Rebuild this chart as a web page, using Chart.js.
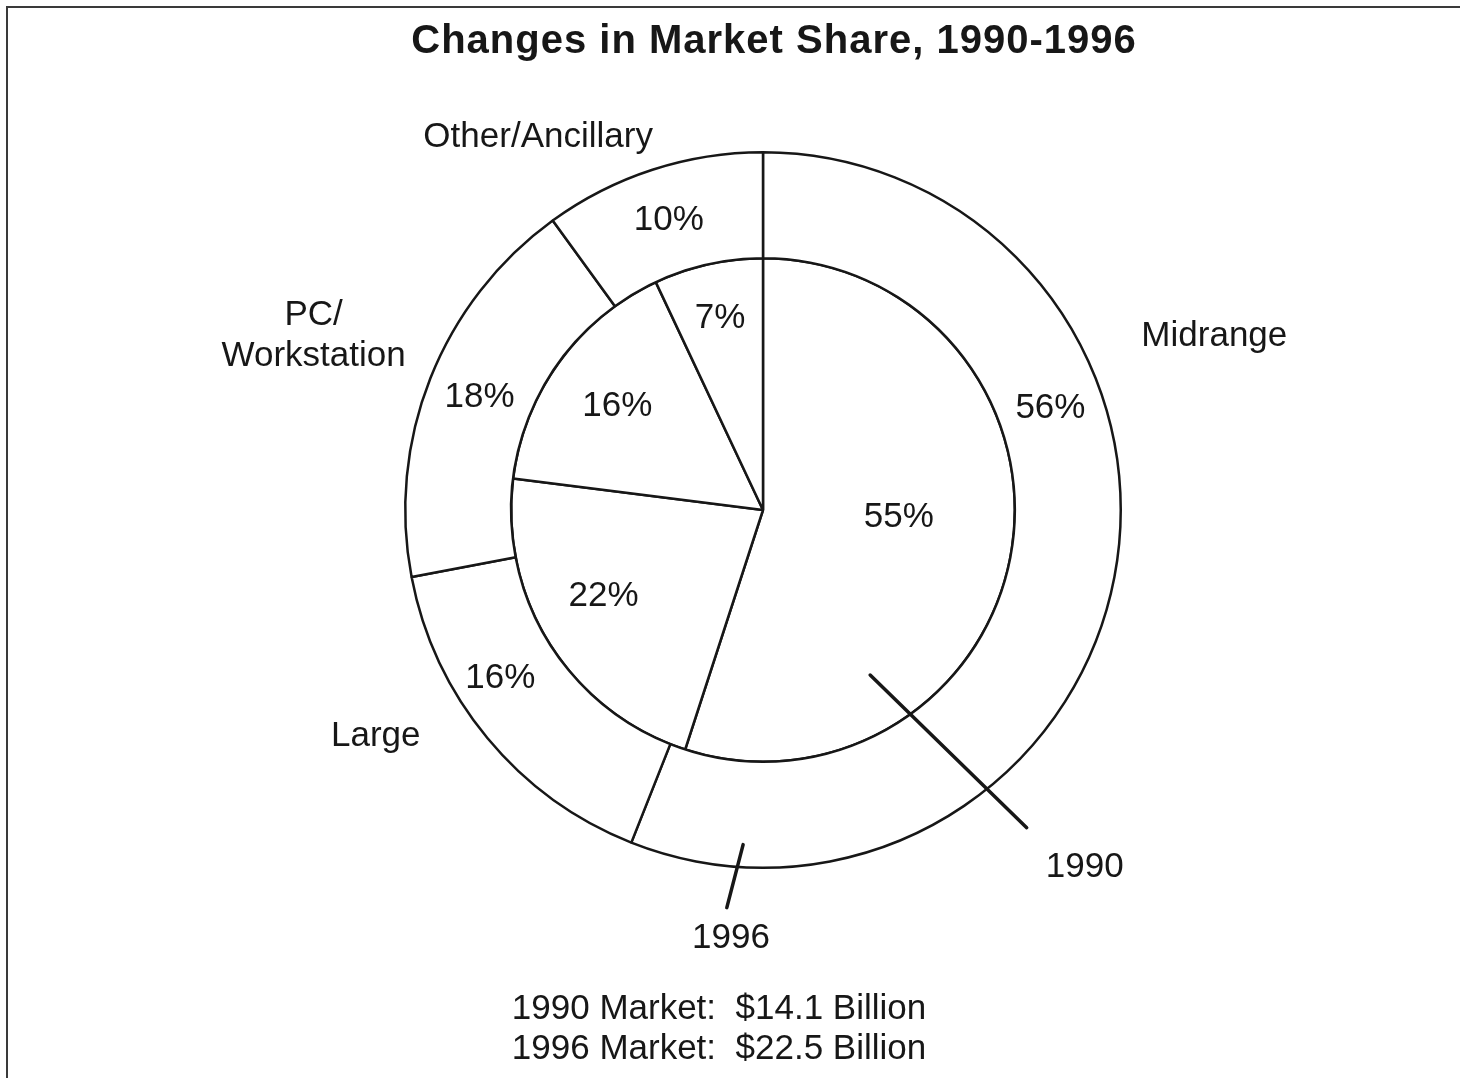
<!DOCTYPE html>
<html>
<head>
<meta charset="utf-8">
<title>Changes in Market Share, 1990-1996</title>
<script src="https://cdn.jsdelivr.net/npm/chart.js@4.4.1/dist/chart.umd.min.js"></script>
<style>
    html, body { margin: 0; padding: 0; background: #fff; }
    #wrap { position: relative; width: 1460px; height: 1078px; }
    #shareChart { display: block; width: 1460px; height: 1078px; }
</style>
</head>
<body>
<div id="wrap"><canvas id="shareChart" width="1460" height="1078"></canvas></div>
<script>
/* ── Data ──────────────────────────────────────────────── */
const categories = ['Midrange', 'Large', 'PC/Workstation', 'Other/Ancillary'];
const share1990  = [55, 22, 16, 7];
const share1996  = [56, 16, 18, 10];
const years      = ['1990', '1996'];
const marketSize = ['$14.1 Billion', '$22.5 Billion'];
const chartTitle = 'Changes in Market Share, 1990-1996';

/* ── Shared style ──────────────────────────────────────── */
const FONT = '"Liberation Sans", Arial, Helvetica, sans-serif';
const INK  = '#171717';

// clock angle (degrees, 0 = 12 o'clock, clockwise) -> canvas point
function polar(cx, cy, r, clockDeg) {
    const a = (clockDeg - 90) * Math.PI / 180;
    return { x: cx + r * Math.cos(a), y: cy + r * Math.sin(a) };
}

/* ── Annotation plugin: percentages, category names, leaders ── */
const annotations = {
    id : 'annotations',
    afterDraw(chart, args, opts) {
        const ctx = chart.ctx;
        const outer = chart.getDatasetMeta(0).data[0];
        const cx = outer.x, cy = outer.y, R = outer.outerRadius;

        ctx.save();
        ctx.fillStyle    = INK;
        ctx.strokeStyle  = INK;
        ctx.textAlign    = 'center';
        ctx.textBaseline = 'middle';

        // frame (top and left edges only are visible)
        ctx.lineWidth = 2;
        ctx.strokeStyle = '#3a3a3a';
        ctx.beginPath();
        ctx.moveTo(7, chart.height);
        ctx.lineTo(7, 7);
        ctx.lineTo(chart.width, 7);
        ctx.stroke();
        ctx.strokeStyle = INK;

        // title
        ctx.font = 'bold 40px ' + FONT;
        ctx.letterSpacing = '1px';
        ctx.fillText(chartTitle, opts.titleAt[0], opts.titleAt[1]);
        ctx.letterSpacing = '0px';

        // percentage labels inside the slices
        ctx.font = '35px ' + FONT;
        chart.data.datasets.forEach((ds, i) => {
            const meta = chart.getDatasetMeta(i);
            meta.data.forEach((arc, j) => {
                const p = arc.getProps(['startAngle', 'endAngle', 'innerRadius', 'outerRadius']);
                const [fa, fr] = opts.pctPos[i][j];
                const ang = p.startAngle + fa * (p.endAngle - p.startAngle);
                const r   = p.innerRadius + fr * (p.outerRadius - p.innerRadius);
                ctx.fillText(ds.data[j] + '%', cx + r * Math.cos(ang), cy + r * Math.sin(ang));
            });
        });

        // category names around the ring
        categories.forEach((name, j) => {
            const [deg, rf, wrap] = opts.catPos[j];
            const pt = polar(cx, cy, rf * R, deg);
            pt.y += 3;
            if (wrap) {
                const cut = name.indexOf('/') + 1;
                ctx.fillText(name.slice(0, cut), pt.x, pt.y - 20.5);
                ctx.fillText(name.slice(cut), pt.x, pt.y + 20.5);
            } else {
                ctx.fillText(name, pt.x, pt.y);
            }
        });

        // year leaders
        ctx.lineWidth = 3.5;
        ctx.lineCap = 'round';
        opts.leaders.forEach((ld, k) => {
            const a = polar(cx, cy, ld.from[1] * R, ld.from[0]);
            const b = polar(cx, cy, ld.to[1] * R, ld.to[0]);
            ctx.beginPath();
            ctx.moveTo(a.x, a.y);
            ctx.lineTo(b.x, b.y);
            ctx.stroke();
            const t = polar(cx, cy, ld.label[1] * R, ld.label[0]);
            ctx.fillText(years[k], t.x, t.y + 2);
        });

        // market size footnote
        years.forEach((y, k) => {
            ctx.fillText(y + ' Market:  ' + marketSize[k], opts.noteAt[0], opts.noteAt[1] + k * 40);
        });

        ctx.restore();
    },
};

/* ── Nested pie: 1996 outer ring, 1990 inner pie ───────── */
new Chart(document.getElementById('shareChart'), {
    type : 'doughnut',
    data : {
        labels   : categories,
        datasets : [
            {
                label           : years[1],
                data            : share1996,
                weight          : 106,
                backgroundColor : '#fff',
                borderColor     : INK,
                borderWidth     : 2.5,
            },
            {
                label           : years[0],
                data            : share1990,
                weight          : 252,
                backgroundColor : '#fff',
                borderColor     : INK,
                borderWidth     : 2.5,
            },
        ],
    },
    options : {
        responsive : false,
        animation  : false,
        events     : [],
        cutout     : 0,
        layout     : { padding: { left: 404, top: 151, right: 338, bottom: 209 } },
        plugins    : {
            legend  : { display: false },
            tooltip : { enabled: false },
            annotations : {
                titleAt : [774, 42],
                noteAt  : [719, 1009],
                // [fraction along the slice, fraction across the ring]
                pctPos  : [
                    [[0.35, 0.5], [0.62, 0.57], [0.5, 0.5], [0.5, 0.5]],
                    [[0.47, 0.54], [0.55, 0.72], [0.49, 0.71], [0.5, 0.78]],
                ],
                // [clock degrees, radius / outer radius, wrap]
                catPos  : [
                    [68.6, 1.355, false],
                    [240, 1.25, false],
                    [291.5, 1.35, true],
                    [329.1, 1.224, false],
                ],
                leaders : [
                    { from: [147.0, 0.55], to: [140.3, 1.154], label: [137.8, 1.339] },
                    { from: [183.4, 0.937], to: [185.2, 1.116], label: [184.3, 1.196] },
                ],
            },
        },
    },
    plugins : [annotations],
});
</script>
</body>
</html>
